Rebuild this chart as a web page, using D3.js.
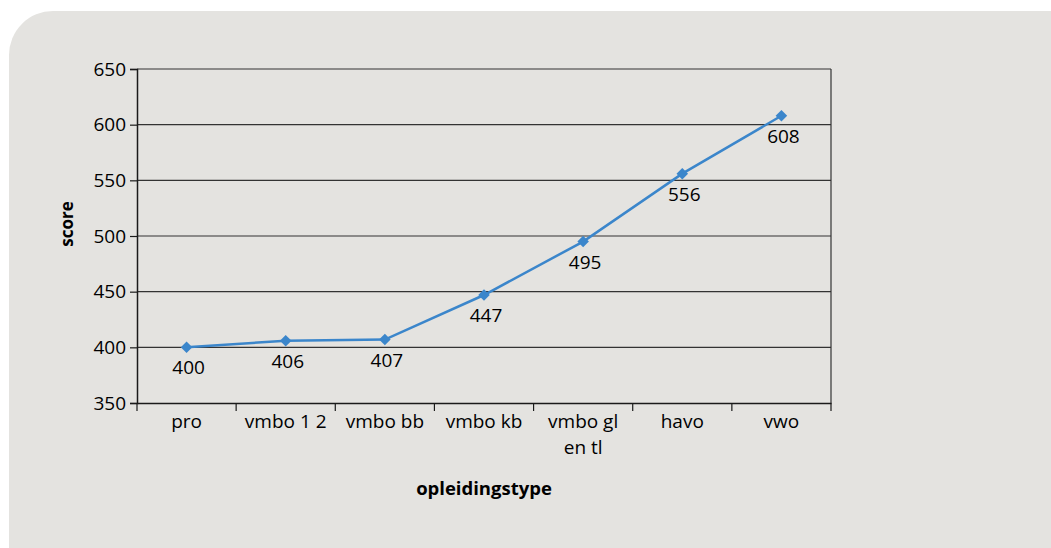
<!DOCTYPE html>
<html>
<head>
<meta charset="utf-8">
<script src="https://cdn.jsdelivr.net/npm/d3@7"></script>
<style>
  html, body { margin: 0; padding: 0; background: #ffffff; }
  svg { display: block; font-family: "Open Sans", "Noto Sans", sans-serif; }
</style>
</head>
<body>
<div id="chart"></div>
<script>

var categories = ["pro", "vmbo 1 2", "vmbo bb", "vmbo kb", "vmbo gl\nen tl", "havo", "vwo"]

var scores = [400, 406, 407, 447, 495, 556, 608]

var yTicks = [350, 400, 450, 500, 550, 600, 650]

var width = 1051
var height = 548

var margin = { left: 137, right: 220, top: 69, bottom: 145 }

var svg = d3.select("#chart").append("svg")
    .attr("width", width)
    .attr("height", height)

// panel with rounded top corners
svg.append("rect")
    .attr("x", 9)
    .attr("y", 11)
    .attr("width", 1100)
    .attr("height", 700)
    .attr("rx", 44)
    .attr("fill", "#e4e3e0")

var x = d3.scaleBand()
    .domain(categories)
    .range([margin.left, width - margin.right])

var y = d3.scaleLinear()
    .domain([350, 650])
    .range([height - margin.bottom, margin.top])

var ink = "#000000"
var fs = "19px"

// gridlines
svg.append("g")
    .selectAll("line")
    .data(yTicks.filter(d => d > 350))
    .enter()
    .append("line")
    .attr("x1", margin.left)
    .attr("x2", width - margin.right)
    .attr("y1", d => y(d))
    .attr("y2", d => y(d))
    .attr("stroke", "#333333")
    .attr("stroke-width", 1.2)

// right border
svg.append("line")
    .attr("x1", width - margin.right)
    .attr("x2", width - margin.right)
    .attr("y1", margin.top)
    .attr("y2", height - margin.bottom)
    .attr("stroke", "#333333")
    .attr("stroke-width", 1.2)

// y axis
var yAxis = svg.append("g")
    .attr("transform", `translate(${margin.left},0)`)
    .call(d3.axisLeft(y).tickValues(yTicks).tickSize(7).tickPadding(4))

yAxis.select(".domain").attr("stroke", "#1a1a1a").attr("stroke-width", 1.5)
yAxis.selectAll(".tick line").attr("stroke", "#1a1a1a").attr("stroke-width", 1.2)
yAxis.selectAll("text")
    .attr("fill", ink)
    .style("font-size", fs)
    .style("font-family", "'Open Sans', sans-serif")

// x axis
var xAxis = svg.append("g")
    .attr("transform", `translate(0,${height - margin.bottom})`)
    .call(d3.axisBottom(x).tickSize(0).tickFormat(""))

xAxis.select(".domain").attr("stroke", "#1a1a1a").attr("stroke-width", 1.5)

var bounds = categories.map(d => x(d)).concat([width - margin.right])

xAxis.selectAll(".bound")
    .data(bounds)
    .enter()
    .append("line")
    .attr("class", "bound")
    .attr("x1", d => d)
    .attr("x2", d => d)
    .attr("y1", 0)
    .attr("y2", 8)
    .attr("stroke", "#1a1a1a")
    .attr("stroke-width", 1.2)

var catLabels = svg.append("g")
    .selectAll("text")
    .data(categories)
    .enter()
    .append("text")
    .attr("x", d => x(d) + x.bandwidth() / 2)
    .attr("y", height - margin.bottom + 25)
    .attr("text-anchor", "middle")
    .attr("fill", ink)
    .style("font-size", fs)

catLabels.each(function(d) {
    var lines = d.split("\n")
    var t = d3.select(this)
    lines.forEach(function(l, i) {
        t.append("tspan")
            .attr("x", x(d) + x.bandwidth() / 2)
            .attr("dy", i == 0 ? 0 : 26)
            .text(l)
    })
})

// axis titles
svg.append("text")
    .attr("transform", "translate(73,224) rotate(-90)")
    .attr("text-anchor", "middle")
    .attr("fill", ink)
    .style("font-size", "17px")
    .style("font-weight", "bold")
    .text("score")

svg.append("text")
    .attr("x", 484)
    .attr("y", 495)
    .attr("text-anchor", "middle")
    .attr("fill", ink)
    .style("font-size", "18.5px")
    .style("font-weight", "bold")
    .text("opleidingstype")

// line
var points = categories.map((c, i) => ({ cat: c, value: scores[i] }))

var line = d3.line()
    .x(d => x(d.cat) + x.bandwidth() / 2)
    .y(d => y(d.value))

svg.append("path")
    .datum(points)
    .attr("fill", "none")
    .attr("stroke", "#3b86cb")
    .attr("stroke-width", 2.5)
    .attr("d", line)

svg.append("g")
    .selectAll("path")
    .data(points)
    .enter()
    .append("path")
    .attr("d", d3.symbol().type(d3.symbolDiamond2).size(85))
    .attr("transform", d => `translate(${x(d.cat) + x.bandwidth() / 2},${y(d.value)})`)
    .attr("fill", "#3b86cb")

svg.append("g")
    .selectAll("text")
    .data(points)
    .enter()
    .append("text")
    .attr("x", d => x(d.cat) + x.bandwidth() / 2 + 2)
    .attr("y", d => y(d.value) + 27)
    .attr("text-anchor", "middle")
    .attr("fill", ink)
    .style("font-size", fs)
    .text(d => d.value)

</script>
</body>
</html>
